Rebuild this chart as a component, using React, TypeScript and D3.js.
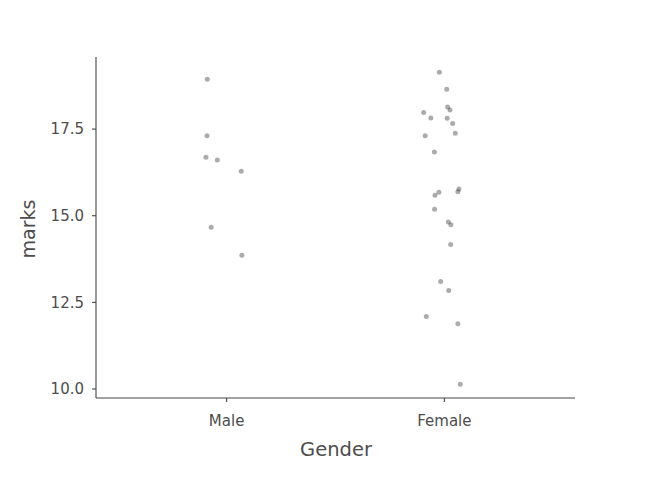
import { FC } from "react";
import * as d3 from "d3";

// data (jitter kept as its own offsets)
const categories = ["Male", "Female"];
const maleMarks = [18.94, 17.31, 16.69, 16.61, 16.28, 14.67, 13.86];
const maleJitter = [-0.089, -0.09, -0.095, -0.043, 0.067, -0.071, 0.07];
const femaleMarks = [
  19.14, 18.65, 17.98, 17.82, 18.14, 18.05, 17.81, 17.66, 17.38, 17.31, 16.84,
  15.77, 15.69, 15.68, 15.59, 15.19, 14.82, 14.74, 14.17, 13.1, 12.84, 12.09,
  11.88, 10.14,
];
const femaleJitter = [
  -0.023, 0.011, -0.095, -0.062, 0.015, 0.026, 0.013, 0.038, 0.05, -0.088,
  -0.046, 0.067, 0.062, -0.025, -0.043, -0.045, 0.018, 0.03, 0.029, -0.017,
  0.02, -0.083, 0.062, 0.073,
];
const yTicks = [10, 12.5, 15, 17.5];

const width = 663;
const height = 497;
const margin = { top: 57, right: 88, bottom: 99, left: 96 };

const App: FC = () => {
  const x = d3
    .scaleLinear()
    .domain([0.4, 2.6])
    .range([margin.left, width - margin.right]);
  const y = d3
    .scaleLinear()
    .domain([9.74, 19.58])
    .range([height - margin.bottom, margin.top]);

  const points = [
    ...maleMarks.map((v, i) => ({ g: 1 + maleJitter[i], v })),
    ...femaleMarks.map((v, i) => ({ g: 2 + femaleJitter[i], v })),
  ];

  const axisColor = "#444444";
  const textColor = "#4d4d4d";
  const font = "'DejaVu Sans', sans-serif";
  const x0 = margin.left;
  const y0 = height - margin.bottom;

  return (
    <svg
      width={width}
      height={height}
      style={{ position: "absolute", left: 0, top: 0, background: "white" }}
      fontFamily={font}
    >
      {/* points */}
      <g>
        {points.map((p, i) => (
          <circle
            key={i}
            cx={x(p.g)}
            cy={y(p.v)}
            r={2.5}
            fill="#000"
            fillOpacity={0.33}
          />
        ))}
      </g>

      {/* y axis */}
      <line x1={x0} x2={x0} y1={margin.top} y2={y0} stroke={axisColor} strokeWidth={1.1} />
      {yTicks.map((t) => (
        <g key={t} transform={`translate(0,${y(t)})`}>
          <line x1={x0 - 4} x2={x0} stroke={axisColor} strokeWidth={1.1} />
          <text
            x={x0 - 12}
            dy="0.35em"
            textAnchor="end"
            fontSize={15}
            fill={textColor}
          >
            {t.toFixed(1)}
          </text>
        </g>
      ))}

      {/* x axis */}
      <line x1={x0} x2={width - margin.right} y1={y0} y2={y0} stroke={axisColor} strokeWidth={1.1} />
      {categories.map((c, i) => (
        <g key={c} transform={`translate(${x(i + 1)},0)`}>
          <line y1={y0} y2={y0 + 4} stroke={axisColor} strokeWidth={1.1} />
          <text
            y={y0 + 28}
            textAnchor="middle"
            fontSize={15}
            fill={textColor}
          >
            {c}
          </text>
        </g>
      ))}

      {/* axis titles */}
      <text
        x={336}
        y={456}
        textAnchor="middle"
        fontSize={19.5}
        fill={textColor}
      >
        Gender
      </text>
      <text
        transform={`translate(35,229) rotate(-90)`}
        textAnchor="middle"
        fontSize={19}
        fill={textColor}
      >
        marks
      </text>
    </svg>
  );
};

export default App;
